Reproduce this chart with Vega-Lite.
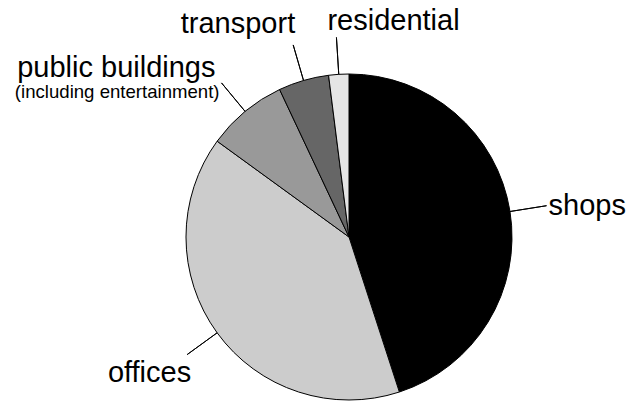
{
  "$schema": "https://vega.github.io/schema/vega-lite/v6.json",
  "width": 560,
  "height": 330,
  "autosize": "none",
  "padding": {"left": 69, "top": 72, "right": 0, "bottom": 0},
  "background": "white",
  "config": {"view": {"stroke": null}},
  "data": {
    "values": [
      {"cat": "shops", "value": 45, "ord": 1},
      {"cat": "offices", "value": 40, "ord": 2},
      {"cat": "public buildings", "value": 8, "ord": 3},
      {"cat": "transport", "value": 5, "ord": 4},
      {"cat": "residential", "value": 2, "ord": 5}
    ]
  },
  "encoding": {
    "theta": {"field": "value", "type": "quantitative", "stack": true},
    "order": {"field": "ord", "type": "quantitative"}
  },
  "layer": [
    {
      "mark": {"type": "arc", "radius": 163, "stroke": "black", "strokeWidth": 1},
      "encoding": {
        "color": {
          "field": "cat",
          "type": "nominal",
          "scale": {
            "domain": ["shops", "offices", "public buildings", "transport", "residential"],
            "range": ["#000000", "#cccccc", "#999999", "#666666", "#e5e5e5"]
          },
          "legend": null
        }
      }
    },
    {
      "mark": {"type": "arc", "radius": 200, "radius2": 163, "padAngle": 3.1, "fill": "transparent", "stroke": "black", "strokeWidth": 1}
    },
    {
      "mark": {"type": "text", "radius": 200, "align": "left", "baseline": "middle", "dx": 2, "dy": 0, "font": "Liberation Sans", "fontSize": 29, "color": "black"},
      "encoding": {"text": {"condition": {"test": "datum.cat === 'shops'", "field": "cat"}, "value": ""}}
    },
    {
      "mark": {"type": "text", "radius": 200, "align": "right", "baseline": "alphabetic", "dx": 4, "dy": 27, "font": "Liberation Sans", "fontSize": 29, "color": "black"},
      "encoding": {"text": {"condition": {"test": "datum.cat === 'offices'", "field": "cat"}, "value": ""}}
    },
    {
      "mark": {"type": "text", "radius": 200, "align": "right", "baseline": "alphabetic", "dx": -6, "dy": -6, "font": "Liberation Sans", "fontSize": 29, "color": "black"},
      "encoding": {"text": {"condition": {"test": "datum.cat === 'public buildings'", "field": "cat"}, "value": ""}}
    },
    {
      "mark": {"type": "text", "radius": 200, "align": "right", "baseline": "alphabetic", "dx": -2, "dy": 15, "font": "Liberation Sans", "fontSize": 18.6, "color": "black"},
      "encoding": {"text": {"condition": {"test": "datum.cat === 'public buildings'", "value": "(including entertainment)"}, "value": ""}}
    },
    {
      "mark": {"type": "text", "radius": 200, "align": "right", "baseline": "alphabetic", "dx": 2, "dy": -12, "font": "Liberation Sans", "fontSize": 29, "color": "black"},
      "encoding": {"text": {"condition": {"test": "datum.cat === 'transport'", "field": "cat"}, "value": ""}}
    },
    {
      "mark": {"type": "text", "radius": 200, "align": "left", "baseline": "alphabetic", "dx": -9, "dy": -7, "font": "Liberation Sans", "fontSize": 29, "color": "black"},
      "encoding": {"text": {"condition": {"test": "datum.cat === 'residential'", "field": "cat"}, "value": ""}}
    }
  ]
}
